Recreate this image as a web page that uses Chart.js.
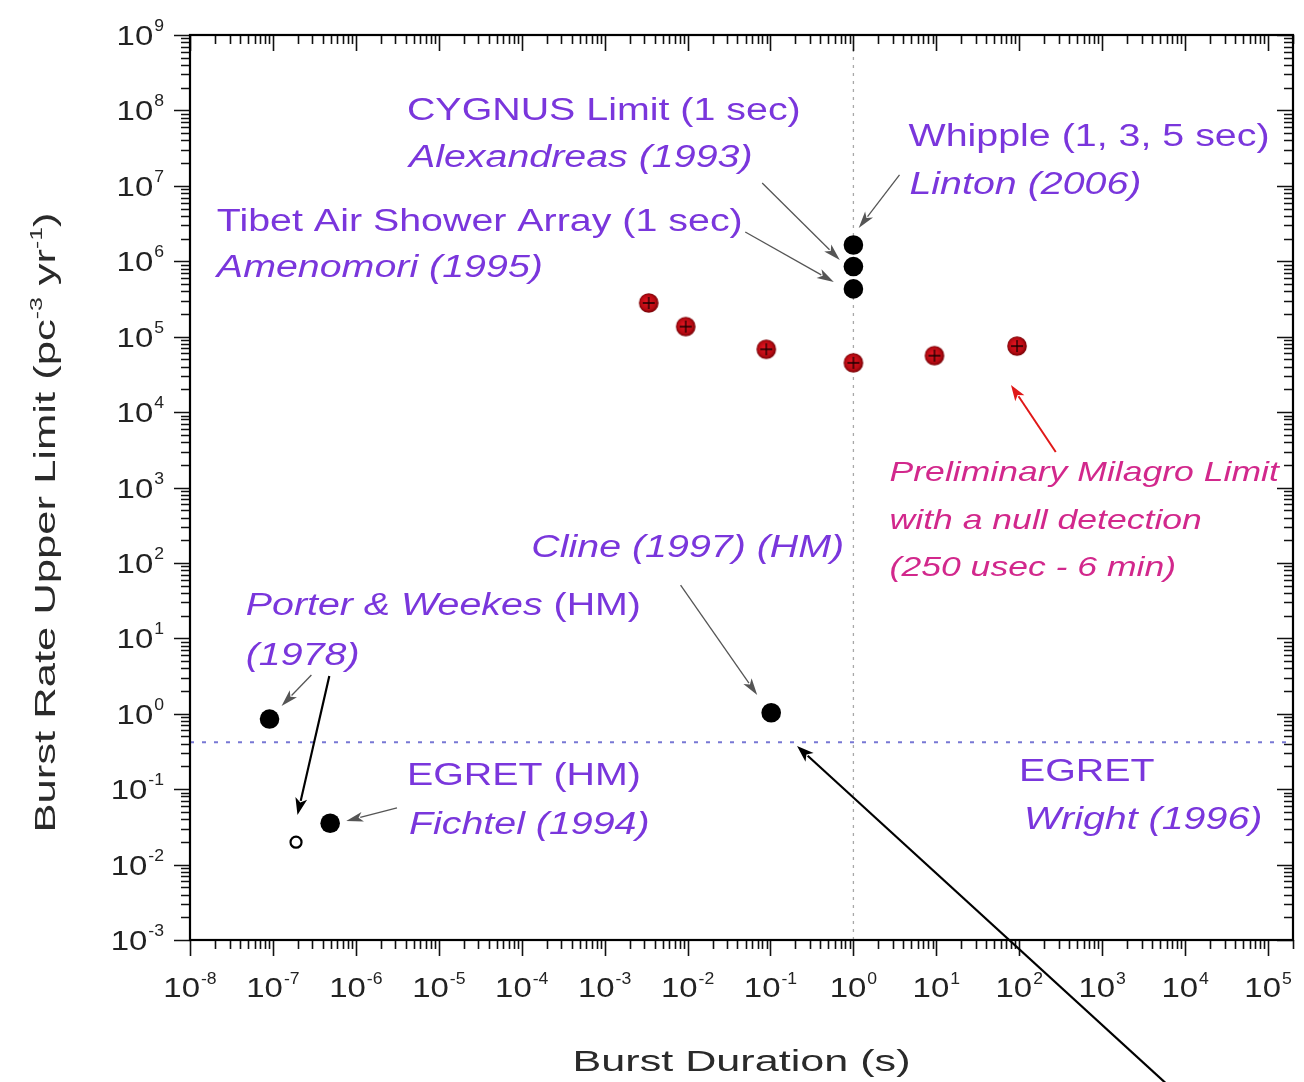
<!DOCTYPE html>
<html><head><meta charset="utf-8">
<script src="https://cdn.jsdelivr.net/npm/chart.js@4/dist/chart.umd.min.js"></script>
<style>html,body{margin:0;padding:0;background:#fff;overflow:hidden}</style>
</head><body>
<canvas id="c" width="1304" height="1082"></canvas>
<script>
// ---------- data ----------
const limitX = [1, 1, 1, 0.102, 9.1e-8, 4.9e-7];
const limitY = [1.64e6, 8.5e5, 4.3e5, 1.03, 0.85, 0.0353];
const milagroX = [0.0034, 0.0095, 0.089, 1.0, 9.5, 94];
const milagroY = [2.8e5, 1.36e5, 6.8e4, 4.5e4, 5.6e4, 7.5e4];
const openX = [1.9e-7];
const openY = [0.0198];
const wrightX = [1e-8, 2e5];
const wrightY = [0.42, 0.42];
const oneSecX = [1, 1];
const oneSecY = [1e-3, 1e9];
const xTickExp = [-8, -7, -6, -5, -4, -3, -2, -1, 0, 1, 2, 3, 4, 5];
const yTickExp = [-3, -2, -1, 0, 1, 2, 3, 4, 5, 6, 7, 8, 9];
const xTitle = 'Burst Duration (s)';
const yTitle = [['Burst Rate Upper Limit (pc', 0], ['-3', 1], [' yr', 0], ['-1', 1], [')', 0]];

const PURPLE = '#7a36dc';
const PINK = '#d2288c';
const FONT = '"Liberation Sans", Arial, Helvetica, sans-serif';

// annotation texts, anchored at log10(data) coordinates (left edge, middle)
const notes = [
  {lx: -5.384, ly: 7.992, segs: [['CYGNUS Limit (1 sec)', 0]]},
  {lx: -5.36, ly: 7.369, segs: [['Alexandreas (1993)', 1]]},
  {lx: 0.664, ly: 7.648, segs: [['Whipple (1, 3, 5 sec)', 0]]},
  {lx: 0.676, ly: 7.011, segs: [['Linton (2006)', 1]]},
  {lx: -7.676, ly: 6.521, segs: [['Tibet Air Shower Array (1 sec)', 0]]},
  {lx: -7.676, ly: 5.911, segs: [['Amenomori (1995)', 1]]},
  {lx: 0.436, ly: 3.193, segs: [['Preliminary Milagro Limit', 1]], c: PINK, size: 28},
  {lx: 0.436, ly: 2.556, segs: [['with a null detection', 1]], c: PINK, size: 28},
  {lx: 0.436, ly: 1.933, segs: [['(250 usec - 6 min)', 1]], c: PINK, size: 28},
  {lx: -3.884, ly: 2.198, segs: [['Cline (1997) (HM)', 1]]},
  {lx: -7.328, ly: 1.429, segs: [['Porter & Weekes', 1], [' (HM)', 0]]},
  {lx: -7.328, ly: 0.766, segs: [['(1978)', 1]]},
  {lx: -5.384, ly: -0.825, segs: [['EGRET (HM)', 0]]},
  {lx: -5.36, ly: -1.475, segs: [['Fichtel (1994)', 1]]},
  {lx: 1.996, ly: -0.785, segs: [['EGRET', 0]]},
  {lx: 2.056, ly: -1.408, segs: [['Wright (1996)', 1]]}
];
// arrows: [fromLx, fromLy, toLx, toLy, kind]
const arrows = [
  [-1.100, 7.038, -0.164, 6.017, 'g'],
  [-1.304, 6.388, -0.236, 5.725, 'g'],
  [0.556, 7.144, 0.064, 6.441, 'g'],
  [2.440, 3.471, 1.900, 4.359, 'r'],
  [-2.084, 1.707, -1.160, 0.249, 'g'],
  [-6.536, 0.514, -6.896, 0.103, 'g'],
  [-6.320, 0.501, -6.704, -1.342, 'k'],
  [-5.504, -1.249, -6.116, -1.422, 'g'],
  [3.856, -4.988, -0.680, -0.427, 'k']
];

// red marker with black cross
function redMarker() {
  const s = 24, c = document.createElement('canvas');
  c.width = s; c.height = s;
  const g = c.getContext('2d');
  const grd = g.createRadialGradient(s/2 - 2, s/2 - 2, 1, s/2, s/2, 10);
  grd.addColorStop(0, '#dc1420'); grd.addColorStop(0.7, '#b80a12'); grd.addColorStop(1, '#6e0004');
  g.fillStyle = grd; g.beginPath(); g.arc(s/2, s/2, 9.8, 0, Math.PI*2); g.fill();
  g.strokeStyle = '#1a0000'; g.lineWidth = 1.3;
  g.beginPath(); g.moveTo(s/2 - 6, s/2); g.lineTo(s/2 + 6, s/2); g.moveTo(s/2, s/2 - 6); g.lineTo(s/2, s/2 + 6); g.stroke();
  return c;
}

const pts = (xs, ys) => xs.map((x, i) => ({x: x, y: ys[i]}));

function sText(ctx, str, x, y, font, sx) {
  ctx.save(); ctx.font = font;
  const w = ctx.measureText(str).width * sx;
  ctx.translate(x, y); ctx.scale(sx, 1); ctx.textAlign = 'left'; ctx.fillText(str, 0, 0);
  ctx.restore(); return w;
}
function tw(ctx, str, font) { ctx.save(); ctx.font = font; const w = ctx.measureText(str).width; ctx.restore(); return w; }

function drawArrow(ctx, x1, y1, x2, y2, color, lw, hl, hw) {
  const a = Math.atan2(y2 - y1, x2 - x1);
  const bx = x2 - Math.cos(a) * hl * 0.85, by = y2 - Math.sin(a) * hl * 0.85;
  ctx.save(); ctx.strokeStyle = color; ctx.fillStyle = color; ctx.lineWidth = lw;
  ctx.beginPath(); ctx.moveTo(x1, y1); ctx.lineTo(bx, by); ctx.stroke();
  ctx.beginPath(); ctx.moveTo(x2, y2);
  ctx.lineTo(x2 - Math.cos(a) * hl + Math.sin(a) * hw, y2 - Math.sin(a) * hl - Math.cos(a) * hw);
  ctx.lineTo(x2 - Math.cos(a) * hl * 0.75, y2 - Math.sin(a) * hl * 0.75);
  ctx.lineTo(x2 - Math.cos(a) * hl - Math.sin(a) * hw, y2 - Math.sin(a) * hl + Math.cos(a) * hw);
  ctx.closePath(); ctx.fill(); ctx.restore();
}

function logTicks(min, max) {
  const out = [];
  for (let e = Math.floor(Math.log10(min)); e <= Math.ceil(Math.log10(max)); e++) {
    for (let k = 1; k <= 9; k++) {
      const v = k * Math.pow(10, e);
      if (v >= min * 0.999 && v <= max * 1.001) out.push({v: v, major: k === 1});
    }
  }
  return out;
}

const decor = {
  id: 'decor',
  afterDraw(chart) {
    const ctx = chart.ctx, a = chart.chartArea, xs = chart.scales.x, ys = chart.scales.y;
    const X = lx => xs.getPixelForValue(Math.pow(10, lx));
    const Y = ly => ys.getPixelForValue(Math.pow(10, ly));
    const MAJ = 16, MIN = 9;
    ctx.save();
    ctx.strokeStyle = '#111'; ctx.lineWidth = 1.6;
    // ticks
    ctx.beginPath();
    for (const t of logTicks(xs.min, xs.max)) {
      const p = Math.round(xs.getPixelForValue(t.v)) + 0.5, L = t.major ? MAJ : MIN;
      ctx.moveTo(p, a.bottom); ctx.lineTo(p, a.bottom + L);
      ctx.moveTo(p, a.top); ctx.lineTo(p, a.top + L);
    }
    for (const t of logTicks(ys.min, ys.max)) {
      const p = Math.round(ys.getPixelForValue(t.v)) + 0.5, L = t.major ? MAJ : MIN;
      ctx.moveTo(a.left, p); ctx.lineTo(a.left - L, p);
      ctx.moveTo(a.right, p); ctx.lineTo(a.right - L, p);
    }
    ctx.stroke();
    // frame
    ctx.lineWidth = 2.2; ctx.strokeStyle = '#000';
    ctx.strokeRect(a.left, a.top, a.right - a.left, a.bottom - a.top);
    // tick labels
    ctx.fillStyle = '#222'; ctx.textBaseline = 'alphabetic';
    const F10 = '27px ' + FONT, FE = '16px ' + FONT, SX = 1.22;
    for (const e of xTickExp) {
      const px = X(e);
      const w1 = tw(ctx, '10', F10) * SX, w2 = tw(ctx, String(e), FE) * 1.1;
      const x0 = px - (w1 + w2 + 1) / 2;
      sText(ctx, '10', x0, a.bottom + 57, F10, SX);
      sText(ctx, String(e), x0 + w1 + 1, a.bottom + 44, FE, 1.1);
    }
    for (const e of yTickExp) {
      const py = Y(e);
      const w1 = tw(ctx, '10', F10) * SX, w2 = tw(ctx, String(e), FE) * 1.1;
      const xr = a.left - 26;
      sText(ctx, '10', xr - w1 - w2 - 1, py + 10, F10, SX);
      sText(ctx, String(e), xr - w2, py - 4, FE, 1.1);
    }
    // axis titles
    ctx.fillStyle = '#2a2a2a';
    const FT = '30px ' + FONT;
    const xsx = 338 / tw(ctx, xTitle, FT);
    sText(ctx, xTitle, (a.left + a.right) / 2 - 338 / 2, a.bottom + 131, FT, xsx);
    // y title rotated
    const FS = '17px ' + FONT;
    let nat = 0;
    for (const [t, s] of yTitle) nat += tw(ctx, t, s ? FS : FT);
    const ysx = 620 / nat;
    ctx.save();
    ctx.translate(a.left - 135, (a.top + a.bottom) / 2 + 35);
    ctx.rotate(-Math.PI / 2);
    let cx = -310;
    for (const [t, s] of yTitle) {
      cx += sText(ctx, t, cx, s ? -13 : 0, s ? FS : FT, ysx);
    }
    ctx.restore();
    // annotations
    ctx.textBaseline = 'middle';
    for (const n of notes) {
      ctx.fillStyle = n.c || PURPLE;
      const size = n.size || 31;
      let x = X(n.lx); const y = Y(n.ly);
      for (const [t, it] of n.segs) {
        x += sText(ctx, t, x, y, (it ? 'italic ' : '') + size + 'px ' + FONT, 1.27);
      }
    }
    // arrows
    for (const [x1, y1, x2, y2, k] of arrows) {
      if (k === 'g') drawArrow(ctx, X(x1), Y(y1), X(x2), Y(y2), '#555', 1.3, 17, 5);
      else if (k === 'r') drawArrow(ctx, X(x1), Y(y1), X(x2), Y(y2), '#e01818', 2, 16, 5.5);
      else drawArrow(ctx, X(x1), Y(y1), X(x2), Y(y2), '#000', 2.2, 17, 6);
    }
    ctx.restore();
  }
};

new Chart(document.getElementById('c'), {
  type: 'scatter',
  data: {
    datasets: [
      {label: 'Wright', data: pts(wrightX, wrightY), showLine: true, borderColor: 'rgba(95,95,205,0.85)', borderWidth: 2, borderDash: [4, 8], pointRadius: 0, order: 5},
      {label: '1 s', data: pts(oneSecX, oneSecY), showLine: true, borderColor: '#a8a8a8', borderWidth: 1.3, borderDash: [3, 5], pointRadius: 0, order: 4},
      {label: 'Milagro', data: pts(milagroX, milagroY), pointStyle: redMarker(), pointRadius: 10, order: 2},
      {label: 'Limits', data: pts(limitX, limitY), pointStyle: 'circle', pointRadius: 9.8, backgroundColor: '#000', borderColor: '#000', borderWidth: 0, order: 1},
      {label: 'Open', data: pts(openX, openY), pointStyle: 'circle', pointRadius: 5.5, backgroundColor: '#fff', borderColor: '#000', borderWidth: 2.2, order: 1}
    ]
  },
  options: {
    responsive: false, animation: false,
    layout: {padding: {left: 190, right: 6, top: 35, bottom: 142}},
    plugins: {legend: {display: false}, tooltip: {enabled: false}},
    scales: {
      x: {type: 'logarithmic', min: 1e-8, max: 2e5, display: false},
      y: {type: 'logarithmic', min: 1e-3, max: 1e9, display: false}
    }
  },
  plugins: [decor]
});
</script>
</body></html>
